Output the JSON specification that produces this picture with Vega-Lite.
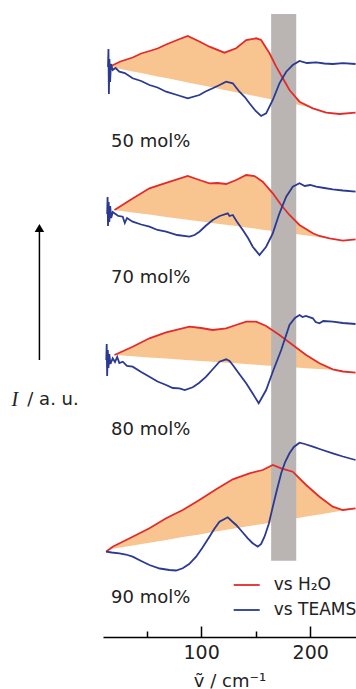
{
  "$schema": "https://vega.github.io/schema/vega-lite/v6.json",
  "autosize": "none",
  "width": 253,
  "height": 637,
  "padding": {"left": 103, "top": 0, "right": 0, "bottom": 52},
  "background": "white",
  "config": {"view": {"stroke": null}, "font": "DejaVu Sans"},
  "datasets": {
    "lines": [
      {"p":"50","s":"vs H₂O","x":15.9,"y":567.3},{"p":"50","s":"vs H₂O","x":26,"y":572.5},{"p":"50","s":"vs H₂O","x":37.2,"y":576.5},{"p":"50","s":"vs H₂O","x":45,"y":580.5},{"p":"50","s":"vs H₂O","x":52.6,"y":583},{"p":"50","s":"vs H₂O","x":60,"y":585.5},{"p":"50","s":"vs H₂O","x":67.9,"y":589.5},{"p":"50","s":"vs H₂O","x":78,"y":594},{"p":"50","s":"vs H₂O","x":87.7,"y":598},{"p":"50","s":"vs H₂O","x":98.4,"y":592.5},{"p":"50","s":"vs H₂O","x":107.6,"y":587.3},{"p":"50","s":"vs H₂O","x":121.4,"y":581.3},{"p":"50","s":"vs H₂O","x":132.1,"y":585.7},{"p":"50","s":"vs H₂O","x":141.3,"y":594},{"p":"50","s":"vs H₂O","x":150.5,"y":595.7},{"p":"50","s":"vs H₂O","x":155.0,"y":594},{"p":"50","s":"vs H₂O","x":162.7,"y":580.7},{"p":"50","s":"vs H₂O","x":168.8,"y":567.3},{"p":"50","s":"vs H₂O","x":174.9,"y":555.7},{"p":"50","s":"vs H₂O","x":181.0,"y":544},{"p":"50","s":"vs H₂O","x":190.2,"y":532.3},{"p":"50","s":"vs H₂O","x":202.4,"y":525.7},{"p":"50","s":"vs H₂O","x":214.7,"y":521.3},{"p":"50","s":"vs H₂O","x":226.9,"y":520},{"p":"50","s":"vs H₂O","x":241.6,"y":521.3},
      {"p":"50","s":"vs TEAMS","x":14.6,"y":567},{"p":"50","s":"vs TEAMS","x":15.0,"y":585},{"p":"50","s":"vs TEAMS","x":15.4,"y":540},{"p":"50","s":"vs TEAMS","x":15.9,"y":575},{"p":"50","s":"vs TEAMS","x":16.5,"y":552},{"p":"50","s":"vs TEAMS","x":17.3,"y":570},{"p":"50","s":"vs TEAMS","x":18.9,"y":564},{"p":"50","s":"vs TEAMS","x":21.5,"y":566},{"p":"50","s":"vs TEAMS","x":25.0,"y":562.3},{"p":"50","s":"vs TEAMS","x":30,"y":561},{"p":"50","s":"vs TEAMS","x":37.2,"y":555.7},{"p":"50","s":"vs TEAMS","x":45,"y":553},{"p":"50","s":"vs TEAMS","x":52.6,"y":549},{"p":"50","s":"vs TEAMS","x":60,"y":546.5},{"p":"50","s":"vs TEAMS","x":67.9,"y":542.3},{"p":"50","s":"vs TEAMS","x":78,"y":539},{"p":"50","s":"vs TEAMS","x":87.7,"y":535.7},{"p":"50","s":"vs TEAMS","x":98.4,"y":539},{"p":"50","s":"vs TEAMS","x":104,"y":542.5},{"p":"50","s":"vs TEAMS","x":110.6,"y":545.7},{"p":"50","s":"vs TEAMS","x":116,"y":548.5},{"p":"50","s":"vs TEAMS","x":122.9,"y":552.3},{"p":"50","s":"vs TEAMS","x":129.0,"y":550.7},{"p":"50","s":"vs TEAMS","x":135.1,"y":542.3},{"p":"50","s":"vs TEAMS","x":140,"y":537},{"p":"50","s":"vs TEAMS","x":144.3,"y":530.7},{"p":"50","s":"vs TEAMS","x":150,"y":523},{"p":"50","s":"vs TEAMS","x":155.0,"y":518},{"p":"50","s":"vs TEAMS","x":159.6,"y":520.7},{"p":"50","s":"vs TEAMS","x":165.7,"y":534},{"p":"50","s":"vs TEAMS","x":171.8,"y":550.7},{"p":"50","s":"vs TEAMS","x":178.0,"y":562.3},{"p":"50","s":"vs TEAMS","x":184.0,"y":569},{"p":"50","s":"vs TEAMS","x":190.2,"y":573},{"p":"50","s":"vs TEAMS","x":197,"y":571},{"p":"50","s":"vs TEAMS","x":205.5,"y":571.7},{"p":"50","s":"vs TEAMS","x":213,"y":570.5},{"p":"50","s":"vs TEAMS","x":220.7,"y":570},{"p":"50","s":"vs TEAMS","x":230,"y":570.8},{"p":"50","s":"vs TEAMS","x":241.6,"y":570},
      {"p":"70","s":"vs H₂O","x":20.5,"y":424},{"p":"70","s":"vs H₂O","x":37.2,"y":435.4},{"p":"70","s":"vs H₂O","x":52.6,"y":445.7},{"p":"70","s":"vs H₂O","x":67.9,"y":451.1},{"p":"70","s":"vs H₂O","x":87.7,"y":458},{"p":"70","s":"vs H₂O","x":98.4,"y":454},{"p":"70","s":"vs H₂O","x":107.6,"y":450.7},{"p":"70","s":"vs H₂O","x":115,"y":451},{"p":"70","s":"vs H₂O","x":122.9,"y":450},{"p":"70","s":"vs H₂O","x":132.1,"y":454},{"p":"70","s":"vs H₂O","x":141.3,"y":459},{"p":"70","s":"vs H₂O","x":148.9,"y":458},{"p":"70","s":"vs H₂O","x":156.5,"y":452.3},{"p":"70","s":"vs H₂O","x":165.7,"y":440.7},{"p":"70","s":"vs H₂O","x":173.4,"y":429},{"p":"70","s":"vs H₂O","x":181.0,"y":419},{"p":"70","s":"vs H₂O","x":190.2,"y":409},{"p":"70","s":"vs H₂O","x":202.4,"y":400.7},{"p":"70","s":"vs H₂O","x":208.5,"y":398},{"p":"70","s":"vs H₂O","x":217.7,"y":395.7},{"p":"70","s":"vs H₂O","x":229.9,"y":393.3},{"p":"70","s":"vs H₂O","x":241.6,"y":394.7},
      {"p":"70","s":"vs TEAMS","x":13.8,"y":420},{"p":"70","s":"vs TEAMS","x":14.2,"y":437},{"p":"70","s":"vs TEAMS","x":14.6,"y":408},{"p":"70","s":"vs TEAMS","x":15.2,"y":432},{"p":"70","s":"vs TEAMS","x":15.8,"y":412},{"p":"70","s":"vs TEAMS","x":16.6,"y":428},{"p":"70","s":"vs TEAMS","x":17.5,"y":416},{"p":"70","s":"vs TEAMS","x":18.9,"y":422},{"p":"70","s":"vs TEAMS","x":20.5,"y":420.7},{"p":"70","s":"vs TEAMS","x":24,"y":418},{"p":"70","s":"vs TEAMS","x":28.1,"y":417.3},{"p":"70","s":"vs TEAMS","x":30,"y":411},{"p":"70","s":"vs TEAMS","x":32,"y":416},{"p":"70","s":"vs TEAMS","x":37.2,"y":412.3},{"p":"70","s":"vs TEAMS","x":45,"y":409.5},{"p":"70","s":"vs TEAMS","x":52.6,"y":407.3},{"p":"70","s":"vs TEAMS","x":60,"y":404},{"p":"70","s":"vs TEAMS","x":67.9,"y":402.3},{"p":"70","s":"vs TEAMS","x":78,"y":399},{"p":"70","s":"vs TEAMS","x":89.3,"y":397.3},{"p":"70","s":"vs TEAMS","x":94,"y":399},{"p":"70","s":"vs TEAMS","x":98.4,"y":402.3},{"p":"70","s":"vs TEAMS","x":104,"y":408},{"p":"70","s":"vs TEAMS","x":110.6,"y":414},{"p":"70","s":"vs TEAMS","x":117,"y":418},{"p":"70","s":"vs TEAMS","x":124.4,"y":420.7},{"p":"70","s":"vs TEAMS","x":126,"y":418},{"p":"70","s":"vs TEAMS","x":129.0,"y":419},{"p":"70","s":"vs TEAMS","x":133,"y":412},{"p":"70","s":"vs TEAMS","x":138.2,"y":404},{"p":"70","s":"vs TEAMS","x":143,"y":396},{"p":"70","s":"vs TEAMS","x":147.3,"y":387.3},{"p":"70","s":"vs TEAMS","x":153.5,"y":379},{"p":"70","s":"vs TEAMS","x":159.6,"y":387.3},{"p":"70","s":"vs TEAMS","x":165.7,"y":400.7},{"p":"70","s":"vs TEAMS","x":171.8,"y":420.7},{"p":"70","s":"vs TEAMS","x":178.0,"y":437.3},{"p":"70","s":"vs TEAMS","x":184.0,"y":447.3},{"p":"70","s":"vs TEAMS","x":190.2,"y":450.7},{"p":"70","s":"vs TEAMS","x":195,"y":448},{"p":"70","s":"vs TEAMS","x":200,"y":449},{"p":"70","s":"vs TEAMS","x":205.5,"y":447.3},{"p":"70","s":"vs TEAMS","x":213,"y":446},{"p":"70","s":"vs TEAMS","x":220.7,"y":444.7},{"p":"70","s":"vs TEAMS","x":230,"y":443.5},{"p":"70","s":"vs TEAMS","x":241.6,"y":442.3},
      {"p":"80","s":"vs H₂O","x":20.5,"y":279},{"p":"80","s":"vs H₂O","x":37.2,"y":287.3},{"p":"80","s":"vs H₂O","x":52.6,"y":295.7},{"p":"80","s":"vs H₂O","x":67.9,"y":301.7},{"p":"80","s":"vs H₂O","x":89.3,"y":307.3},{"p":"80","s":"vs H₂O","x":100,"y":306},{"p":"80","s":"vs H₂O","x":110.6,"y":304},{"p":"80","s":"vs H₂O","x":122.9,"y":305.7},{"p":"80","s":"vs H₂O","x":132,"y":309},{"p":"80","s":"vs H₂O","x":141.3,"y":312.3},{"p":"80","s":"vs H₂O","x":150.5,"y":312.3},{"p":"80","s":"vs H₂O","x":159.6,"y":308},{"p":"80","s":"vs H₂O","x":171.8,"y":299},{"p":"80","s":"vs H₂O","x":184.0,"y":289},{"p":"80","s":"vs H₂O","x":196.3,"y":279},{"p":"80","s":"vs H₂O","x":208.5,"y":270.7},{"p":"80","s":"vs H₂O","x":220.7,"y":264.7},{"p":"80","s":"vs H₂O","x":230,"y":262.5},{"p":"80","s":"vs H₂O","x":241.6,"y":261.3},
      {"p":"80","s":"vs TEAMS","x":13.0,"y":274},{"p":"80","s":"vs TEAMS","x":13.4,"y":290},{"p":"80","s":"vs TEAMS","x":13.8,"y":258},{"p":"80","s":"vs TEAMS","x":14.4,"y":284},{"p":"80","s":"vs TEAMS","x":15.0,"y":266},{"p":"80","s":"vs TEAMS","x":15.8,"y":280},{"p":"80","s":"vs TEAMS","x":16.8,"y":270},{"p":"80","s":"vs TEAMS","x":18.9,"y":275.7},{"p":"80","s":"vs TEAMS","x":21,"y":272},{"p":"80","s":"vs TEAMS","x":23,"y":277},{"p":"80","s":"vs TEAMS","x":25,"y":271},{"p":"80","s":"vs TEAMS","x":28.1,"y":272.3},{"p":"80","s":"vs TEAMS","x":32,"y":268},{"p":"80","s":"vs TEAMS","x":37.2,"y":267.3},{"p":"80","s":"vs TEAMS","x":45,"y":262},{"p":"80","s":"vs TEAMS","x":52.6,"y":257.3},{"p":"80","s":"vs TEAMS","x":60,"y":252.5},{"p":"80","s":"vs TEAMS","x":67.9,"y":249},{"p":"80","s":"vs TEAMS","x":74,"y":246},{"p":"80","s":"vs TEAMS","x":80.1,"y":245.7},{"p":"80","s":"vs TEAMS","x":85,"y":244},{"p":"80","s":"vs TEAMS","x":92.3,"y":246.7},{"p":"80","s":"vs TEAMS","x":98,"y":251},{"p":"80","s":"vs TEAMS","x":104.6,"y":257.3},{"p":"80","s":"vs TEAMS","x":110,"y":264},{"p":"80","s":"vs TEAMS","x":116.8,"y":272.3},{"p":"80","s":"vs TEAMS","x":122.9,"y":274.7},{"p":"80","s":"vs TEAMS","x":126,"y":273},{"p":"80","s":"vs TEAMS","x":129.0,"y":269},{"p":"80","s":"vs TEAMS","x":135,"y":260},{"p":"80","s":"vs TEAMS","x":141.3,"y":250.7},{"p":"80","s":"vs TEAMS","x":147,"y":241},{"p":"80","s":"vs TEAMS","x":152.8,"y":230.7},{"p":"80","s":"vs TEAMS","x":159.6,"y":244},{"p":"80","s":"vs TEAMS","x":165.7,"y":262.3},{"p":"80","s":"vs TEAMS","x":173.4,"y":284},{"p":"80","s":"vs TEAMS","x":181.0,"y":309},{"p":"80","s":"vs TEAMS","x":186,"y":316},{"p":"80","s":"vs TEAMS","x":190.2,"y":319},{"p":"80","s":"vs TEAMS","x":193,"y":317},{"p":"80","s":"vs TEAMS","x":196,"y":318},{"p":"80","s":"vs TEAMS","x":202.4,"y":315.7},{"p":"80","s":"vs TEAMS","x":205,"y":312},{"p":"80","s":"vs TEAMS","x":208.5,"y":310.7},{"p":"80","s":"vs TEAMS","x":212,"y":313},{"p":"80","s":"vs TEAMS","x":220.7,"y":312.3},{"p":"80","s":"vs TEAMS","x":230,"y":311},{"p":"80","s":"vs TEAMS","x":241.6,"y":310},
      {"p":"90","s":"vs H₂O","x":12.8,"y":82.3},{"p":"90","s":"vs H₂O","x":18.9,"y":87.3},{"p":"90","s":"vs H₂O","x":37.2,"y":97.3},{"p":"90","s":"vs H₂O","x":52.6,"y":105.7},{"p":"90","s":"vs H₂O","x":67.9,"y":115.7},{"p":"90","s":"vs H₂O","x":83.1,"y":124},{"p":"90","s":"vs H₂O","x":98.4,"y":134},{"p":"90","s":"vs H₂O","x":113.8,"y":144.7},{"p":"90","s":"vs H₂O","x":129.0,"y":154.7},{"p":"90","s":"vs H₂O","x":144.3,"y":160.7},{"p":"90","s":"vs H₂O","x":156.5,"y":164},{"p":"90","s":"vs H₂O","x":165.7,"y":169},{"p":"90","s":"vs H₂O","x":173.4,"y":165.7},{"p":"90","s":"vs H₂O","x":184.0,"y":162.3},{"p":"90","s":"vs H₂O","x":196.3,"y":149},{"p":"90","s":"vs H₂O","x":208.5,"y":137.3},{"p":"90","s":"vs H₂O","x":220.7,"y":127.3},{"p":"90","s":"vs H₂O","x":229.9,"y":124},{"p":"90","s":"vs H₂O","x":241.6,"y":125.7},
      {"p":"90","s":"vs TEAMS","x":12.8,"y":82.3},{"p":"90","s":"vs TEAMS","x":18,"y":81.5},{"p":"90","s":"vs TEAMS","x":25.0,"y":80.7},{"p":"90","s":"vs TEAMS","x":31,"y":79.5},{"p":"90","s":"vs TEAMS","x":37.2,"y":77.3},{"p":"90","s":"vs TEAMS","x":45,"y":73},{"p":"90","s":"vs TEAMS","x":52.6,"y":69},{"p":"90","s":"vs TEAMS","x":62,"y":65.5},{"p":"90","s":"vs TEAMS","x":70.9,"y":64},{"p":"90","s":"vs TEAMS","x":77,"y":63.5},{"p":"90","s":"vs TEAMS","x":83.1,"y":65.7},{"p":"90","s":"vs TEAMS","x":89,"y":70},{"p":"90","s":"vs TEAMS","x":95.4,"y":77.3},{"p":"90","s":"vs TEAMS","x":101,"y":86},{"p":"90","s":"vs TEAMS","x":107.6,"y":97.3},{"p":"90","s":"vs TEAMS","x":112,"y":105},{"p":"90","s":"vs TEAMS","x":116.8,"y":112.3},{"p":"90","s":"vs TEAMS","x":124.4,"y":116.7},{"p":"90","s":"vs TEAMS","x":128,"y":113},{"p":"90","s":"vs TEAMS","x":132.1,"y":109},{"p":"90","s":"vs TEAMS","x":137,"y":103},{"p":"90","s":"vs TEAMS","x":142.8,"y":95.7},{"p":"90","s":"vs TEAMS","x":147,"y":91},{"p":"90","s":"vs TEAMS","x":151.9,"y":87.3},{"p":"90","s":"vs TEAMS","x":155,"y":90},{"p":"90","s":"vs TEAMS","x":158.1,"y":97.3},{"p":"90","s":"vs TEAMS","x":162,"y":110},{"p":"90","s":"vs TEAMS","x":165.7,"y":127.3},{"p":"90","s":"vs TEAMS","x":169,"y":142},{"p":"90","s":"vs TEAMS","x":173.4,"y":160.7},{"p":"90","s":"vs TEAMS","x":177,"y":172},{"p":"90","s":"vs TEAMS","x":181.0,"y":180.7},{"p":"90","s":"vs TEAMS","x":185,"y":187},{"p":"90","s":"vs TEAMS","x":190.2,"y":191.3},{"p":"90","s":"vs TEAMS","x":195,"y":190},{"p":"90","s":"vs TEAMS","x":202.4,"y":187.3},{"p":"90","s":"vs TEAMS","x":210,"y":184.5},{"p":"90","s":"vs TEAMS","x":220.7,"y":180.7},{"p":"90","s":"vs TEAMS","x":230,"y":177.5},{"p":"90","s":"vs TEAMS","x":241.6,"y":174}
    ],
    "fill": [
      {"p":"50","x":15.9,"top":567.3,"base":567.3},{"p":"50","x":26,"top":572.5,"base":565},{"p":"50","x":37.2,"top":576.5,"base":562.6},{"p":"50","x":45,"top":580.5,"base":560.9},{"p":"50","x":52.6,"top":583,"base":559.2},{"p":"50","x":60,"top":585.5,"base":557.6},{"p":"50","x":67.9,"top":589.5,"base":555.9},{"p":"50","x":78,"top":594,"base":553.7},{"p":"50","x":87.7,"top":598,"base":551.5},{"p":"50","x":98.4,"top":592.5,"base":549.2},{"p":"50","x":107.6,"top":587.3,"base":547.2},{"p":"50","x":121.4,"top":581.3,"base":544.1},{"p":"50","x":132.1,"top":585.7,"base":541.8},{"p":"50","x":141.3,"top":594,"base":539.8},{"p":"50","x":150.5,"top":595.7,"base":537.8},{"p":"50","x":155.0,"top":594,"base":536.8},{"p":"50","x":162.7,"top":580.7,"base":535.1},{"p":"50","x":168.8,"top":567.3,"base":533.7},{"p":"50","x":174.9,"top":555.7,"base":532.4},{"p":"50","x":181.0,"top":544,"base":531.1},{"p":"50","x":190.2,"top":532.3,"base":529.1},{"p":"50","x":202.4,"top":526,"base":526},
      {"p":"70","x":20.5,"top":424,"base":424},{"p":"70","x":37.2,"top":435.4,"base":421.6},{"p":"70","x":52.6,"top":445.7,"base":419.4},{"p":"70","x":67.9,"top":451.1,"base":417.1},{"p":"70","x":87.7,"top":458,"base":414.3},{"p":"70","x":98.4,"top":454,"base":412.8},{"p":"70","x":107.6,"top":450.7,"base":411.4},{"p":"70","x":115,"top":451,"base":410.3},{"p":"70","x":122.9,"top":450,"base":409.2},{"p":"70","x":132.1,"top":454,"base":407.9},{"p":"70","x":141.3,"top":459,"base":406.5},{"p":"70","x":148.9,"top":458,"base":405.4},{"p":"70","x":156.5,"top":452.3,"base":404.3},{"p":"70","x":165.7,"top":440.7,"base":403.0},{"p":"70","x":173.4,"top":429,"base":401.9},{"p":"70","x":181.0,"top":419,"base":400.8},{"p":"70","x":190.2,"top":409,"base":399.5},{"p":"70","x":202.4,"top":400.7,"base":397.7},{"p":"70","x":208.5,"top":398,"base":396.8},{"p":"70","x":217.7,"top":395.6,"base":395.6},
      {"p":"80","x":20.5,"top":279,"base":279},{"p":"80","x":37.2,"top":287.3,"base":277.7},{"p":"80","x":52.6,"top":295.7,"base":276.6},{"p":"80","x":67.9,"top":301.7,"base":275.4},{"p":"80","x":89.3,"top":307.3,"base":273.8},{"p":"80","x":100,"top":306,"base":273.0},{"p":"80","x":110.6,"top":304,"base":272.2},{"p":"80","x":122.9,"top":305.7,"base":271.3},{"p":"80","x":132,"top":309,"base":270.7},{"p":"80","x":141.3,"top":312.3,"base":269.9},{"p":"80","x":150.5,"top":312.3,"base":269.3},{"p":"80","x":159.6,"top":308,"base":268.6},{"p":"80","x":171.8,"top":299,"base":267.7},{"p":"80","x":184.0,"top":289,"base":266.7},{"p":"80","x":196.3,"top":279,"base":265.8},{"p":"80","x":208.5,"top":270.7,"base":264.9},{"p":"80","x":220.7,"top":264.2,"base":264.2},
      {"p":"90","x":12.8,"top":83.5,"base":83.5},{"p":"90","x":18.9,"top":87.3,"base":85.2},{"p":"90","x":37.2,"top":97.3,"base":88.6},{"p":"90","x":52.6,"top":105.7,"base":91.3},{"p":"90","x":67.9,"top":115.7,"base":94.1},{"p":"90","x":83.1,"top":124,"base":96.9},{"p":"90","x":98.4,"top":134,"base":99.6},{"p":"90","x":113.8,"top":144.7,"base":102.4},{"p":"90","x":129.0,"top":154.7,"base":105.2},{"p":"90","x":144.3,"top":160.7,"base":107.9},{"p":"90","x":156.5,"top":164,"base":110.1},{"p":"90","x":165.7,"top":169,"base":111.8},{"p":"90","x":173.4,"top":165.7,"base":113.2},{"p":"90","x":184.0,"top":162.3,"base":115.1},{"p":"90","x":196.3,"top":149,"base":117.4},{"p":"90","x":208.5,"top":137.3,"base":119.6},{"p":"90","x":220.7,"top":127.3,"base":121.8},{"p":"90","x":229.9,"top":123.6,"base":123.6}
    ],
    "band": [{"x":164.2,"x2":187.2,"y":73.3,"y2":620}],
    "labels": [
      {"label":"50 mol%","x":17.4,"y":492},
      {"label":"70 mol%","x":17.4,"y":355.7},
      {"label":"80 mol%","x":17.4,"y":204},
      {"label":"90 mol%","x":17.4,"y":35.7}
    ],
    "arrow": [{"x":-48.3,"y":274,"y2":404}],
    "head": [{"x":-48.3,"y":406}]
  },
  "encoding": {
    "x": {"field":"x","type":"quantitative","scale":{"domain":[10,242],"nice":false,"zero":false},
      "axis":{"values":[50,100,150,200],"labelExpr":"datum.value % 100 === 0 ? datum.label : ''",
        "tickSize":{"condition":{"test":"datum.value % 100 === 0","value":-11},"value":-6},
        "tickColor":"black","tickWidth":1.5,"domainColor":"black","domainWidth":1.5,
        "labelFontSize":19,"labelFont":"DejaVu Sans","labelColor":"#222","labelPadding":17,
        "title":"ṽ / cm⁻¹","titleFontSize":18,"titleFontWeight":"normal","titleFont":"DejaVu Sans","titleColor":"#222","titlePadding":10,"grid":false}},
    "y": {"field":"y","type":"quantitative","scale":{"domain":[-3,634],"nice":false,"zero":false},"axis":null}
  },
  "layer": [
    {"data":{"name":"fill"},"mark":{"type":"area","color":"#f8c48f","opacity":1},
     "encoding":{"y":{"field":"top","type":"quantitative"},"y2":{"field":"base"},"detail":{"field":"p"}}},
    {"data":{"name":"band"},"mark":{"type":"rect","color":"#bab5b2"},
     "encoding":{"x2":{"field":"x2"},"y2":{"field":"y2"}}},
    {"data":{"name":"lines"},"mark":{"type":"line","strokeWidth":1.8},
     "encoding":{"detail":{"field":"p"},
       "color":{"field":"s","type":"nominal","scale":{"domain":["vs H₂O","vs TEAMS"],"range":["#e32b2a","#2b3990"]},
         "legend":{"orient":"none","legendX":129.7,"legendY":571,"title":null,"symbolType":"stroke","symbolSize":676,"symbolStrokeWidth":1.8,"labelFontSize":17,"labelFont":"DejaVu Sans","labelColor":"#222","labelOffset":13,"rowPadding":3}}}},
    {"data":{"name":"labels"},"mark":{"type":"text","align":"left","baseline":"middle","fontSize":18,"font":"DejaVu Sans","color":"#222"},
     "encoding":{"text":{"field":"label"}}},
    {"data":{"name":"arrow"},"mark":{"type":"rule","color":"black","strokeWidth":1.5},
     "encoding":{"y2":{"field":"y2"}}},
    {"data":{"name":"head"},"mark":{"type":"point","shape":"triangle-up","filled":true,"color":"black","size":90,"opacity":1},
     "encoding":{}},
    {"data":{"values":[{"t":"I","x":-74,"y":234}]},"mark":{"type":"text","align":"left","baseline":"middle","fontSize":20,"font":"Liberation Serif","fontStyle":"italic","color":"#222"},
     "encoding":{"text":{"field":"t"}}},
    {"data":{"values":[{"t":"/ a. u.","x":-59.4,"y":234}]},"mark":{"type":"text","align":"left","baseline":"middle","fontSize":18,"font":"DejaVu Sans","color":"#222"},
     "encoding":{"text":{"field":"t"}}}
  ]
}
